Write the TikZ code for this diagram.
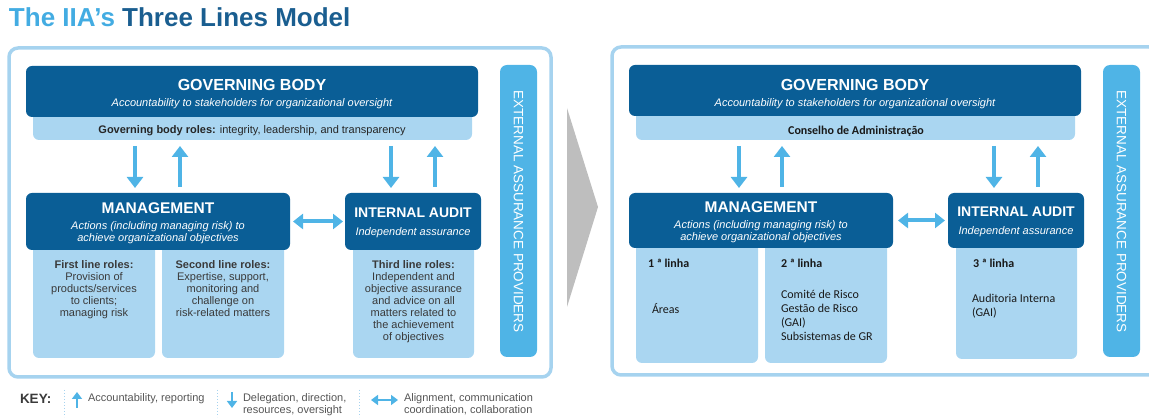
\documentclass[tikz,border=0pt]{standalone}
\usepackage{fontspec}
\setmainfont{Liberation Sans}
\newfontfamily\calfont{Carlito}
\usepackage{xcolor}
\usepackage{tikz}
\usetikzlibrary{arrows.meta}
\definecolor{iiadark}{HTML}{0A5E96}
\definecolor{iiarole}{HTML}{AAD6F1}
\definecolor{iiasky}{HTML}{4FB4E6}
\definecolor{iiaframe}{HTML}{A6D3EF}
\definecolor{iiatitle}{HTML}{43ACE2}
\definecolor{iianavy}{HTML}{1A5E90}
\definecolor{iiatext}{HTML}{3A3A3A}
\definecolor{iiakey}{HTML}{555555}
\definecolor{iiagray}{HTML}{BEBEBE}

\begin{document}
\begin{tikzpicture}[y=1pt, x=1pt, yscale=-1, inner sep=0pt, outer sep=0pt,
    panelframe/.style={draw=iiaframe, line width=3.5pt, rounded corners=9pt},
    darkbox/.style={fill=iiadark, rounded corners=6pt},
    rolebox/.style={fill=iiarole, rounded corners=6pt},
    extbox/.style={fill=iiasky, rounded corners=7pt},
    headtext/.style={text=white, font=\bfseries\fontsize{16}{18}\selectfont},
    subtext/.style={text=white, align=center, font=\itshape\fontsize{11}{12}\selectfont},
    roletext/.style={text=iiatext, align=center, font=\fontsize{11}{12}\selectfont},
    ptext/.style={text=black!90, align=left, font=\calfont\fontsize{12}{14}\selectfont},
    pbold/.style={text=black!90, font=\calfont\bfseries\fontsize{12}{14}\selectfont},
    exttext/.style={text=white, rotate=-90, font=\fontsize{13.5}{16}\selectfont},
    keytext/.style={text=iiakey, align=left, font=\fontsize{11}{12}\selectfont},
    vflow/.style={draw=iiasky, line width=3.5pt, -{Triangle[width=16pt,length=11pt]}},
    hflow/.style={draw=iiasky, line width=4pt, {Triangle[width=15pt,length=10pt]}-{Triangle[width=15pt,length=10pt]}},
    keyflow/.style={draw=iiasky, line width=1.8pt, -{Triangle[width=10pt,length=7pt]}},
    keyboth/.style={draw=iiasky, line width=1.8pt, {Triangle[width=10pt,length=7pt]}-{Triangle[width=10pt,length=7pt]}},
    keysep/.style={draw=iiaframe, line width=1pt, dotted}]
  \useasboundingbox (0,0) rectangle (1149,419);
  \node[anchor=base west, font=\bfseries\fontsize{26}{30}\selectfont] (title) at (9,27)
    {\textcolor{iiatitle}{The IIA’s} \textcolor{iianavy}{Three Lines Model}};

  \draw[panelframe] (9,48) rectangle (551,377);
  \node[rolebox, minimum width=122, minimum height=128] (line1) at (94,294) {};
  \node[rolebox, minimum width=122, minimum height=128] (line2) at (223,294) {};
  \node[rolebox, minimum width=121, minimum height=128] (line3) at (413.5,294) {};
  \node[rolebox, minimum width=439, minimum height=40] (govroles) at (252.5,120) {};
  \node[darkbox, minimum width=452, minimum height=51] (gov) at (252,91.5) {};
  \node[darkbox, minimum width=264, minimum height=57] (mgmt) at (158,221.5) {};
  \node[darkbox, minimum width=136, minimum height=57] (audit) at (413,221.5) {};
  \node[extbox, minimum width=37, minimum height=292] (ext) at (518.5,211) {};

  \node[headtext] (govtitle) at (252,85.3) {GOVERNING BODY};
  \node[subtext] (govsub) at (252,103.8) {Accountability to stakeholders for organizational oversight};
  \node[text=black!85, font=\fontsize{11}{12}\selectfont] (govrolestext) at (252,130.2)
    {\textbf{Governing body roles:} integrity, leadership, and transparency};
  \node[headtext, font=\bfseries\fontsize{15.5}{18}\selectfont] (mgmttitle) at (158,208.3) {MANAGEMENT};
  \node[subtext, anchor=north] (mgmtsub) at (158,221.9) {Actions (including managing risk) to\\achieve organizational objectives};
  \node[headtext, font=\bfseries\fontsize{14}{16}\selectfont] (audittitle) at (413,212.8) {INTERNAL AUDIT};
  \node[subtext] (auditsub) at (413,232.5) {Independent assurance};
  \node[roletext, anchor=north] (line1text) at (94,261)
    {\textbf{First line roles:}\\Provision of\\products/services\\to clients;\\managing risk};
  \node[roletext, anchor=north] (line2text) at (223,261)
    {\textbf{Second line roles:}\\Expertise, support,\\monitoring and\\challenge on\\risk-related matters};
  \node[roletext, anchor=north] (line3text) at (413.5,261)
    {\textbf{Third line roles:}\\Independent and\\objective assurance\\and advice on all\\matters related to\\the achievement\\of objectives};
  \node[exttext] (exttxt) at (518.5,211.5) {EXTERNAL ASSURANCE PROVIDERS};

  \coordinate (down1) at (135,0);
  \coordinate (up1) at (180,0);
  \coordinate (down2) at (391,0);
  \coordinate (up2) at (435,0);
  \draw[vflow, shorten <=6pt, shorten >=5pt] (govroles.south -| down1) -- (mgmt.north -| down1);
  \draw[vflow, shorten <=6pt, shorten >=6pt] (mgmt.north -| up1) -- (govroles.south -| up1);
  \draw[vflow, shorten <=6pt, shorten >=5pt] (govroles.south -| down2) -- (audit.north -| down2);
  \draw[vflow, shorten <=6pt, shorten >=6pt] (audit.north -| up2) -- (govroles.south -| up2);
  \draw[hflow, shorten <=3pt, shorten >=2pt] (mgmt.east) -- (audit.west);

  \node[anchor=base west, text=iiatext, font=\bfseries\fontsize{13.5}{16}\selectfont] (keylabel) at (20,403.5) {KEY:};
  \draw[keysep] (64,390) -- (64,417);
  \draw[keysep] (217,390) -- (217,417);
  \draw[keysep] (359,390) -- (359,417);
  \coordinate (keyup1) at (77,408);
  \coordinate (keyup2) at (77,392);
  \coordinate (keydown1) at (232,392);
  \coordinate (keydown2) at (232,408);
  \coordinate (keyboth1) at (371,400);
  \coordinate (keyboth2) at (398,400);
  \draw[keyflow] (keyup1) -- (keyup2);
  \draw[keyflow] (keydown1) -- (keydown2);
  \draw[keyboth] (keyboth1) -- (keyboth2);
  \node[keytext, anchor=base west] (key1) at (88,401.2) {Accountability, reporting};
  \node[keytext, anchor=north west] (key2) at (243,393.2) {Delegation, direction,\\resources, oversight};
  \node[keytext, anchor=north west] (key3) at (404,393.2) {Alignment, communication\\coordination, collaboration};

  \path[fill=iiagray] (567,108) -- (598,207) -- (567,307) -- cycle;

  \draw[panelframe] (612,47) rectangle (1158,375);
  \node[rolebox, minimum width=122, minimum height=133] (line1b) at (697,296.5) {};
  \node[rolebox, minimum width=122, minimum height=133] (line2b) at (826,296.5) {};
  \node[rolebox, minimum width=121, minimum height=129] (line3b) at (1016.5,294.5) {};
  \node[rolebox, minimum width=439, minimum height=40] (govroles2) at (855.5,120) {};
  \node[darkbox, minimum width=452, minimum height=51] (gov2) at (855,90.5) {};
  \node[darkbox, minimum width=264, minimum height=55] (mgmt2) at (761,220.5) {};
  \node[darkbox, minimum width=136, minimum height=55] (audit2) at (1016,220.5) {};
  \node[extbox, minimum width=37, minimum height=292] (ext2) at (1121.5,211) {};

  \node[headtext] (gov2title) at (855,84.7) {GOVERNING BODY};
  \node[subtext] (gov2sub) at (855,103.6) {Accountability to stakeholders for organizational oversight};
  \node[pbold] (gov2roles) at (856,130.9) {Conselho de Administração};
  \node[headtext, font=\bfseries\fontsize{15.5}{18}\selectfont] (mgmt2title) at (761,207.5) {MANAGEMENT};
  \node[subtext, anchor=north] (mgmt2sub) at (761,220.9) {Actions (including managing risk) to\\achieve organizational objectives};
  \node[headtext, font=\bfseries\fontsize{14}{16}\selectfont] (audit2title) at (1016,211.7) {INTERNAL AUDIT};
  \node[subtext] (audit2sub) at (1016,231.6) {Independent assurance};
  \node[pbold, anchor=base west] (line1blabel) at (648,268) {1 ª linha};
  \node[ptext, anchor=base west] (line1bitems) at (652,313.2) {Áreas};
  \node[pbold, anchor=base west] (line2blabel) at (781,268) {2 ª linha};
  \node[ptext, anchor=north west] (line2bitems) at (781,290) {Comité de Risco\\Gestão de Risco\\(GAI)\\Subsistemas de GR};
  \node[pbold, anchor=base west] (line3blabel) at (973,268) {3 ª linha};
  \node[ptext, anchor=north west] (line3bitems) at (972,294.2) {Auditoria Interna\\(GAI)};
  \node[exttext] (ext2txt) at (1121.5,211.5) {EXTERNAL ASSURANCE PROVIDERS};

  \coordinate (down3) at (739,0);
  \coordinate (up3) at (782,0);
  \coordinate (down4) at (994,0);
  \coordinate (up4) at (1038,0);
  \draw[vflow, shorten <=6pt, shorten >=5pt] (govroles2.south -| down3) -- (mgmt2.north -| down3);
  \draw[vflow, shorten <=6pt, shorten >=6pt] (mgmt2.north -| up3) -- (govroles2.south -| up3);
  \draw[vflow, shorten <=6pt, shorten >=5pt] (govroles2.south -| down4) -- (audit2.north -| down4);
  \draw[vflow, shorten <=6pt, shorten >=6pt] (audit2.north -| up4) -- (govroles2.south -| up4);
  \draw[hflow, shorten <=5pt, shorten >=3pt] (mgmt2.east) -- (audit2.west);
\end{tikzpicture}
\end{document}
